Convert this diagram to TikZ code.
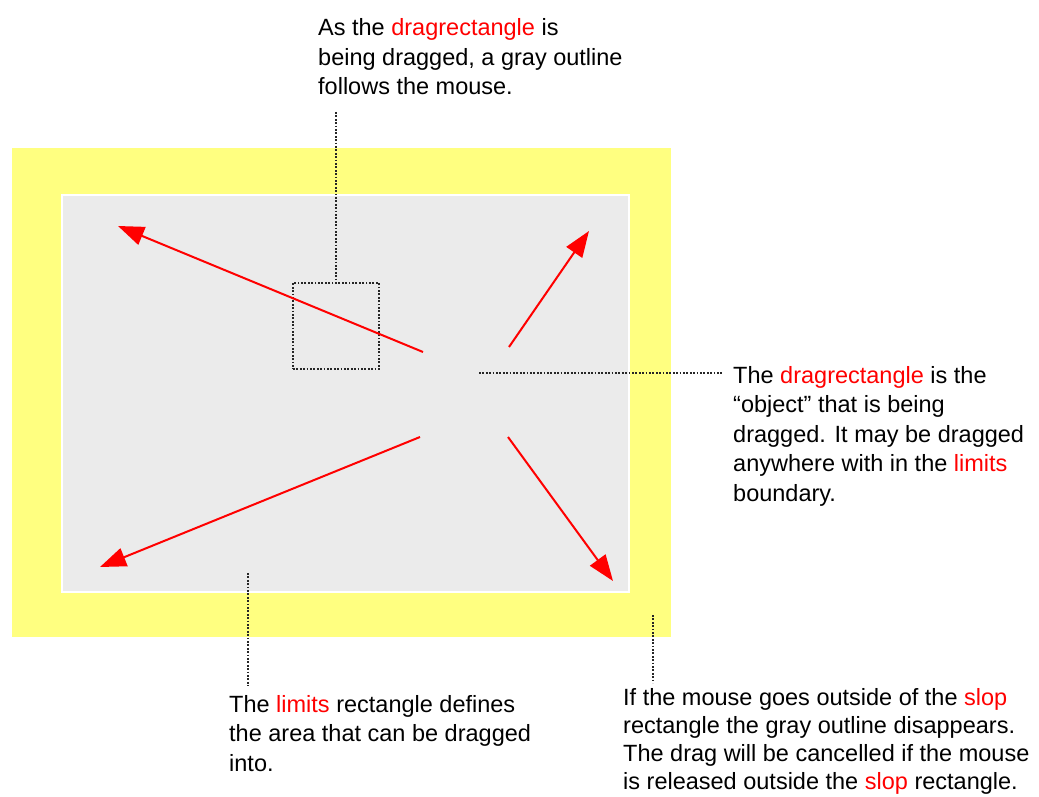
\documentclass[tikz,border=0pt]{standalone}
\usepackage{fontspec}
\setmainfont{Liberation Sans}
\usetikzlibrary{arrows.meta}
\definecolor{slopyellow}{RGB}{255,255,128}
\definecolor{limitgray}{RGB}{235,235,235}
\definecolor{hl}{RGB}{255,0,0}
\newcommand{\hw}[1]{\textcolor{hl}{#1}}
\tikzset{
  dotline/.style={black!85, line width=1.8pt, dash pattern=on 1.8pt off 1.6pt},
  dragarrow/.style={hl, line width=2pt, -{Triangle[length=26pt,width=19pt]}},
  note/.style={anchor=base west, inner sep=0pt, align=left, font=\fontsize{23.5}{29.5}\selectfont}
}
\begin{document}
\begin{tikzpicture}[x=1pt,y=-1pt]
\useasboundingbox (0,0) rectangle (1039,797);
% slop and limits rectangles
\fill[slopyellow] (12,148) rectangle (671,637);
\fill[white] (61,194) rectangle (630,593);
\fill[limitgray] (63,196) rectangle (628,591);
% gray drag outline
\node[draw, dotline, minimum width=86pt, minimum height=86pt, inner sep=0pt] (outline) at (336,326) {};
% arrows
\coordinate (a1s) at (423,352); \coordinate (a1t) at (118,226);
\coordinate (a2s) at (509,347); \coordinate (a2t) at (589,231);
\coordinate (a3s) at (420,437); \coordinate (a3t) at (100,567);
\coordinate (a4s) at (508,437); \coordinate (a4t) at (613,581);
\draw[dragarrow] (a1s) -- (a1t);
\draw[dragarrow] (a2s) -- (a2t);
\draw[dragarrow] (a3s) -- (a3t);
\draw[dragarrow] (a4s) -- (a4t);
% notes (anchor = baseline of last line)
\node[note] (ntop) at (318,95) {As the \hw{dragrectangle} is\\being dragged, a gray outline\\follows the mouse.};
\node[note] (nright) at (733,501) {The \hw{dragrectangle} is the\\``object'' that is being\\dragged. It may be dragged\\anywhere with in the \hw{limits}\\boundary.};
\node[note] (nbl) at (229,771) {The \hw{limits} rectangle defines\\the area that can be dragged\\into.};
\node[note, font=\fontsize{23.5}{28}\selectfont] (nbr) at (623,789) {If the mouse goes outside of the \hw{slop}\\rectangle the gray outline disappears.\\The drag will be cancelled if the mouse\\is released outside the \hw{slop} rectangle.};
% leader lines
\coordinate (l1a) at (336,112);
\draw[dotline] (l1a) -- (outline.north);
\coordinate (l2a) at (479,373); \coordinate (l2b) at (722,373);
\draw[dotline] (l2a) -- (l2b);
\coordinate (l3a) at (248,573); \coordinate (l3b) at (248,686);
\draw[dotline] (l3a) -- (l3b);
\coordinate (l4a) at (653,615); \coordinate (l4b) at (653,683);
\draw[dotline] (l4a) -- (l4b);
\end{tikzpicture}
\end{document}
